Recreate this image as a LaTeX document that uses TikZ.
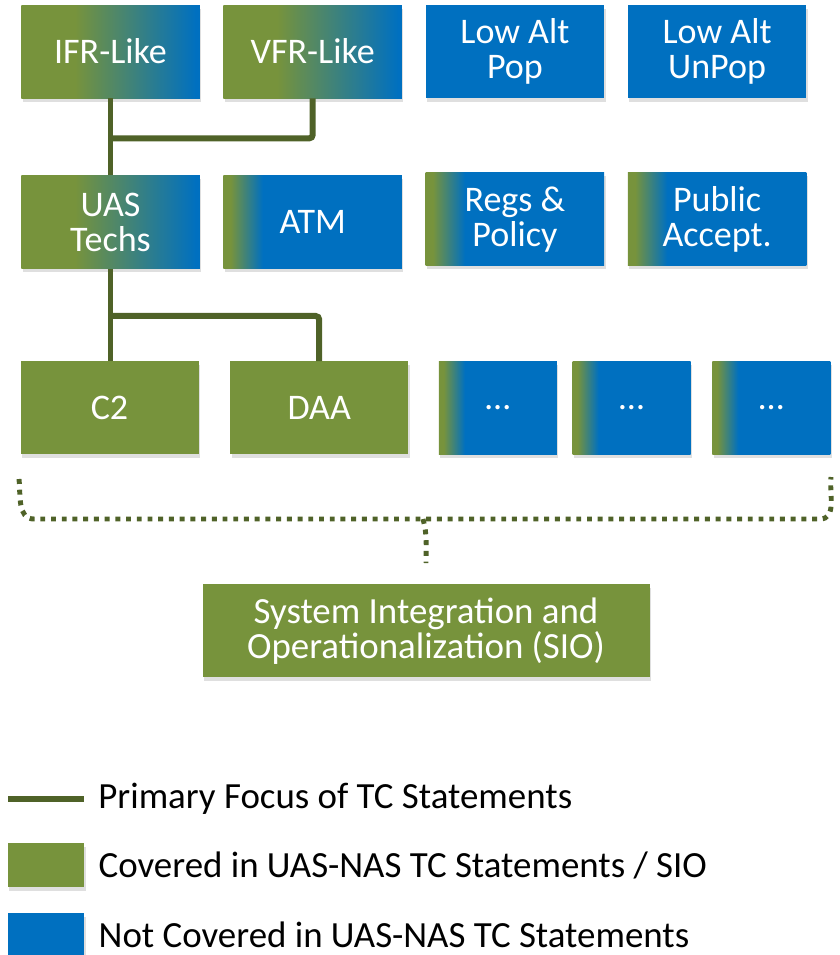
\documentclass[tikz,border=0pt]{standalone}
\usepackage{fontspec}
\setmainfont{Carlito}
\usepackage{tikz}
\usetikzlibrary{positioning,calc,shadows}

\definecolor{tcgreen}{RGB}{119,147,60}
\definecolor{tcblue}{RGB}{0,112,192}
\definecolor{tcline}{RGB}{79,98,40}

\pgfdeclarehorizontalshading{halfmix}{100bp}{color(0bp)=(tcgreen); color(40bp)=(tcgreen); color(74bp)=(tcblue); color(100bp)=(tcblue)}
\pgfdeclarehorizontalshading{edgemix}{100bp}{color(0bp)=(tcgreen); color(27bp)=(tcgreen); color(36bp)=(tcblue); color(100bp)=(tcblue)}

\begin{document}
\begin{tikzpicture}[node distance=0.46cm, font=\fontsize{20.5}{20}\selectfont]

    \tikzstyle{box}=[minimum width=3.57cm, minimum height=1.86cm, inner sep=0pt, align=center, text=white,
                     drop shadow={opacity=0.25, shadow xshift=0.03cm, shadow yshift=-0.07cm}]
    \tikzstyle{cov}=[box, fill=tcgreen]
    \tikzstyle{uncov}=[box, fill=tcblue]
    \tikzstyle{half}=[box, shade, shading=halfmix]
    \tikzstyle{fringe}=[box, shade, shading=edgemix]
    \tikzstyle{focus}=[draw=tcline, line width=3.4pt, rounded corners=2pt]
    \tikzstyle{bracket}=[draw=tcline, line width=2.8pt, dash pattern=on 2.8pt off 3.3pt]
    \tikzstyle{key}=[inner sep=0pt, anchor=west, text=black, font=\fontsize{21}{24}\selectfont]

    \useasboundingbox (0,0) rectangle (16.8,-19.1);

    \node[half] 		    	    (ifr)   at (2.21,-1.03)	{IFR-Like};
    \node[half,right=of ifr]	    (vfr)			{VFR-Like};
    \node[uncov,right=of vfr]	    (pop)			{Low Alt\\Pop};
    \node[uncov,right=of pop]	    (unpop)			{Low Alt\\UnPop};

    \node[half,below=1.54cm of ifr]     (uas)			{UAS\\Techs};
    \node[fringe,right=of uas]	    (atm)			{ATM};
    \node[fringe,right=of atm,yshift=0.06cm]  (regs)		{Regs \&\\Policy};
    \node[fringe,right=of regs]	    (pub)			{Public\\Accept.};

    \node[cov,below=1.84cm of uas,minimum width=3.56cm,xshift=-0.02cm] (c2)	{C2};
    \node[cov,right=0.62cm of c2,minimum width=3.56cm]       (daa)	{DAA};
    \node[fringe,right=0.6cm of daa,minimum width=2.36cm]   (more1)	{…};
    \node[fringe,right=0.3cm of more1,minimum width=2.36cm] (more2)	{…};
    \node[fringe,right=0.42cm of more2,minimum width=2.36cm] (more3)	{…};

    \coordinate (j1) at ($(ifr.south)!0.52!(uas.north)$);
    \coordinate (j2) at ($(uas.south)!0.51!(c2.north)$);

    \draw[focus] (ifr.south) -- (uas.north);
    \draw[focus] (j1) -| (vfr.south);
    \draw[focus] (uas.south) -- (uas.south |- c2.north);
    \draw[focus] (j2) -| (daa.north);

    \coordinate (bl)  at (0.38,-9.58);
    \coordinate (blh) at (0.68,-10.38);
    \coordinate (bm)  at (8.46,-10.38);
    \coordinate (brh) at (16.40,-10.38);
    \coordinate (br)  at (16.62,-9.54);
    \coordinate (tip) at (8.52,-11.26);

    \draw[bracket] (bl) to[out=-84,in=180] (blh) -- (bm) -- (brh) to[out=0,in=-96] (br);
    \draw[bracket] (bm) to[out=-75,in=90] (tip);

    \node[cov,below=0.42cm of tip,minimum width=8.94cm,font=\fontsize{21}{20}\selectfont] (sio) {System Integration and\\Operationalization (SIO)};

    \coordinate (ka) at (0.17,-15.98);
    \coordinate (kb) at (1.68,-15.98);
    \draw[focus] (ka) -- (kb);
    \node[key,right=0.28cm of kb]   (k1)	{Primary Focus of TC Statements};

    \node[cov,minimum width=1.52cm,minimum height=0.88cm] (sqg) at (0.92,-17.30) {};
    \node[key,right=0.28cm of sqg]  (k2)	{Covered in UAS-NAS TC Statements / SIO};

    \node[uncov,minimum width=1.52cm,minimum height=0.88cm] (sqb) at (0.92,-18.70) {};
    \node[key,right=0.28cm of sqb]  (k3)	{Not Covered in UAS-NAS TC Statements};

\end{tikzpicture}
\end{document}
